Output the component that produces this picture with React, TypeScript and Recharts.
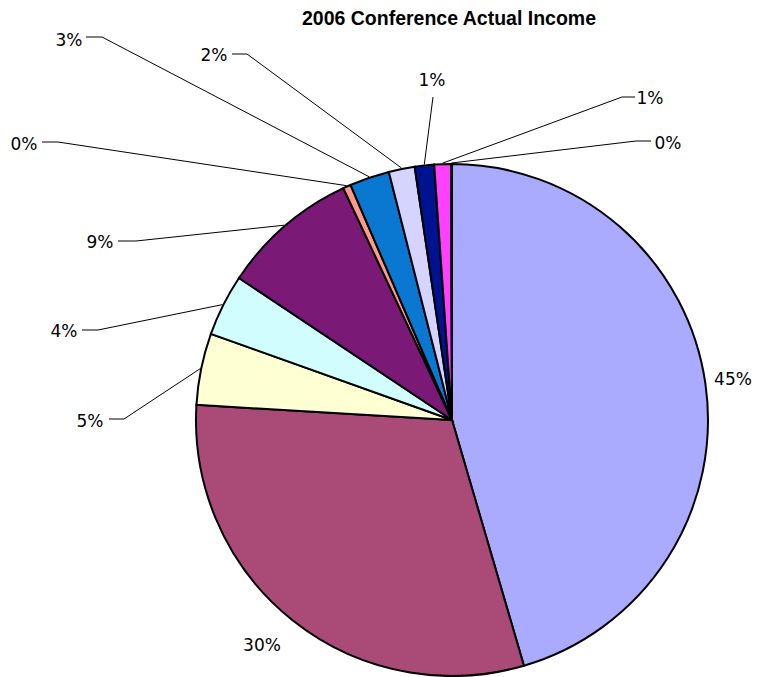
import { Cell, Pie, PieChart } from "recharts";

// income sources, clockwise from 12 o'clock
const sources = [
  "Source A",
  "Source B",
  "Source C",
  "Source D",
  "Source E",
  "Source F",
  "Source G",
  "Source H",
  "Source I",
  "Source J",
  "Source K",
];
const shares = [45.49, 30.49, 4.52, 3.9, 8.67, 0.49, 2.52, 1.64, 1.22, 1.05, 0.06];
const colors = [
  "#AAAAFE",
  "#AA4A77",
  "#FFFFD4",
  "#D2FDFF",
  "#7A1A76",
  "#FF9A8A",
  "#0A78D0",
  "#D4D4FE",
  "#00128F",
  "#FF40FF",
  "#CCCCFF",
];

const data = sources.map((name, i) => ({ name, value: shares[i] }));

// where each percentage label was placed, plus its leader line bends
const labelSpots: { x: number; y: number; leader?: number[][] }[] = [
  { x: 733, y: 379 },
  { x: 262, y: 645 },
  { x: 90, y: 421, leader: [[109, 419], [124, 419]] },
  { x: 64, y: 331, leader: [[82, 330], [98, 330]] },
  { x: 100, y: 242, leader: [[118, 241], [136, 241]] },
  { x: 24, y: 144, leader: [[42, 142], [58, 142]] },
  { x: 69, y: 40, leader: [[86, 37], [102, 37]] },
  { x: 214, y: 55, leader: [[232, 54], [247, 54]] },
  { x: 432, y: 80, leader: [[433, 97]] },
  { x: 650, y: 98, leader: [[635, 97], [622, 97]] },
  { x: 668, y: 143, leader: [[651, 141], [636, 141]] },
];

const RAD = Math.PI / 180;

const renderLabel = (props: any) => {
  const { cx, cy, midAngle, outerRadius, percent, index } = props;
  const spot = labelSpots[index];
  const ex = cx + (outerRadius + 1) * Math.cos(-midAngle * RAD);
  const ey = cy + (outerRadius + 1) * Math.sin(-midAngle * RAD);
  const pts = spot.leader
    ? [...spot.leader, [ex, ey]].map((p) => p.join(",")).join(" ")
    : null;
  return (
    <g>
      {pts && <polyline points={pts} fill="none" stroke="#000" strokeWidth={1} />}
      <text
        x={spot.x}
        y={spot.y}
        textAnchor="middle"
        dominantBaseline="central"
        fontFamily="'DejaVu Sans', sans-serif"
        fontSize={17}
        fill="#000"
      >
        {`${Math.round(percent * 100)}%`}
      </text>
    </g>
  );
};

export default function App() {
  return (
    <div
      style={{
        position: "absolute",
        left: 0,
        top: 0,
        width: 761,
        height: 677,
        background: "#fff",
      }}
    >
      <div
        style={{
          position: "absolute",
          left: 149,
          top: 8.5,
          width: 600,
          textAlign: "center",
          fontFamily: "'Liberation Sans', Arial, sans-serif",
          fontWeight: "bold",
          fontSize: 19.5,
          lineHeight: 1,
          color: "#000",
        }}
      >
        2006 Conference Actual Income
      </div>
      <PieChart width={761} height={677} margin={{ top: 0, right: 0, bottom: 0, left: 0 }}>
        <Pie
          data={data}
          dataKey="value"
          nameKey="name"
          cx={452}
          cy={420}
          outerRadius={256}
          startAngle={90}
          endAngle={-270}
          stroke="#000"
          strokeWidth={2}
          label={renderLabel}
          labelLine={false}
          isAnimationActive={false}
        >
          {data.map((d, i) => (
            <Cell key={d.name} fill={colors[i]} />
          ))}
        </Pie>
      </PieChart>
    </div>
  );
}
